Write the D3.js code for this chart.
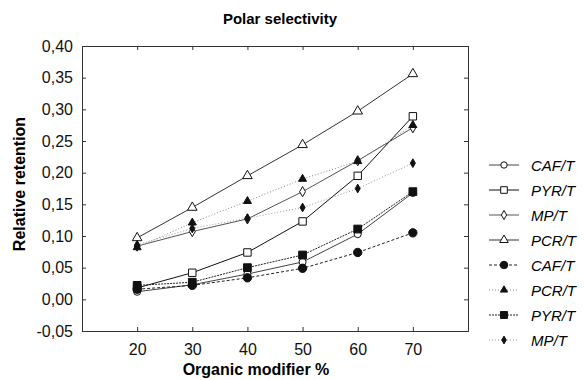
<!DOCTYPE html>
<html>
<head>
<meta charset="utf-8">
<script src="https://cdn.jsdelivr.net/npm/d3@7"></script>
<style>
  body { margin: 0; background: #fff; }
  .axis path, .axis line { stroke: #333; }
</style>
</head>
<body>
<svg width="584" height="380" font-family="'Liberation Sans', Arial, sans-serif"></svg>
<script>
const modifier = [20, 30, 40, 50, 60, 70];
const xTicks = [10, 20, 30, 40, 50, 60, 70, 80];
const xLabels = [20, 30, 40, 50, 60, 70];
const yTicks = [-0.05, 0, 0.05, 0.1, 0.15, 0.2, 0.25, 0.3, 0.35, 0.4];

const cafOpen = [0.012, 0.023, 0.040, 0.059, 0.103, 0.168];
const pyrOpen = [0.018, 0.042, 0.074, 0.123, 0.195, 0.289];
const mpOpen = [0.084, 0.107, 0.127, 0.170, 0.219, 0.271];
const pcrOpen = [0.097, 0.145, 0.195, 0.244, 0.297, 0.356];
const cafFilled = [0.016, 0.022, 0.034, 0.049, 0.074, 0.105];
const pcrFilled = [0.082, 0.121, 0.155, 0.190, 0.218, 0.275];
const pyrFilled = [0.022, 0.027, 0.050, 0.070, 0.111, 0.170];
const mpFilled = [0.086, 0.112, 0.128, 0.145, 0.175, 0.215];

const series = [
  { label: 'CAF/T', values: cafOpen, symbol: d3.symbolCircle, size: 40, filled: false, dash: null, color: '#444' },
  { label: 'PYR/T', values: pyrOpen, symbol: d3.symbolSquare, size: 55, filled: false, dash: null, color: '#111' },
  { label: 'MP/T', values: mpOpen, symbol: d3.symbolDiamond, size: 30, filled: false, dash: null, color: '#555' },
  { label: 'PCR/T', values: pcrOpen, symbol: d3.symbolTriangle, size: 40, filled: false, dash: null, color: '#333' },
  { label: 'CAF/T', values: cafFilled, symbol: d3.symbolCircle, size: 55, filled: true, dash: '3,2', color: '#222' },
  { label: 'PCR/T', values: pcrFilled, symbol: d3.symbolTriangle, size: 28, filled: true, dash: '1,2', color: '#888' },
  { label: 'PYR/T', values: pyrFilled, symbol: d3.symbolSquare, size: 60, filled: true, dash: '2,1', color: '#222' },
  { label: 'MP/T', values: mpFilled, symbol: d3.symbolDiamond, size: 22, filled: true, dash: '1,2', color: '#999' }
];

const svg = d3.select('svg');
const font = "'Liberation Sans', Arial, sans-serif";
const margin = { top: 46, right: 116, bottom: 49, left: 82 };
const width = +svg.attr('width');
const height = +svg.attr('height');
const innerWidth = width - margin.left - margin.right;
const innerHeight = height - margin.top - margin.bottom;

const xScale = d3.scaleLinear().domain([10, 80]).range([0, innerWidth]);
const yScale = d3.scaleLinear().domain([-0.05, 0.4]).range([innerHeight, 0]);

const g = svg.append('g')
  .attr('transform', `translate(${margin.left},${margin.top})`);

const fmt = d => d3.format('.2f')(d).replace('.', ',').replace('−', '-');

// axis groups get real font attributes (d3 defaults to 10px sans-serif)
const styleAxis = sel => sel
  .attr('class', 'axis')
  .attr('font-size', 16)
  .attr('font-family', font);

// bottom axis: ticks, then labels only at the data columns
g.append('g')
  .attr('transform', `translate(0,${innerHeight})`)
  .call(d3.axisBottom(xScale).tickValues(xTicks).tickSize(-4).tickFormat(''))
  .call(styleAxis);

g.append('g')
  .attr('transform', `translate(0,${innerHeight})`)
  .call(d3.axisBottom(xScale).tickValues(xLabels).tickSize(0).tickPadding(13))
  .call(styleAxis)
  .select('.domain').remove();

// top axis
g.append('g')
  .call(d3.axisTop(xScale).tickValues(xTicks).tickSize(-4).tickFormat(''))
  .call(styleAxis);

// left axis
g.append('g')
  .call(d3.axisLeft(yScale).tickValues(yTicks).tickSize(-4).tickPadding(9).tickFormat(fmt))
  .call(styleAxis);

// right axis
g.append('g')
  .attr('transform', `translate(${innerWidth},0)`)
  .call(d3.axisRight(yScale).tickValues(yTicks).tickSize(-4).tickFormat(''))
  .call(styleAxis);

g.selectAll('.axis text').attr('fill', '#111');

// lines
const line = d3.line()
  .x((d, i) => xScale(modifier[i]))
  .y(d => yScale(d));

series.forEach(s => {
  g.append('path')
    .datum(s.values)
    .attr('fill', 'none')
    .attr('stroke', s.color)
    .attr('stroke-width', 1)
    .attr('stroke-dasharray', s.dash)
    .attr('d', line);
});

// markers
series.forEach(s => {
  g.selectAll(null)
    .data(s.values)
    .enter().append('path')
    .attr('transform', (d, i) => `translate(${xScale(modifier[i])},${yScale(d)})`)
    .attr('d', d3.symbol().type(s.symbol).size(s.size))
    .attr('fill', s.filled ? '#111' : '#fff')
    .attr('stroke', '#111')
    .attr('stroke-width', 1);
});

// title
svg.append('text')
  .attr('x', 280)
  .attr('y', 24)
  .attr('text-anchor', 'middle')
  .attr('font-size', '15px')
  .attr('font-weight', 'bold')
  .text('Polar selectivity');

// axis labels
svg.append('text')
  .attr('x', 256)
  .attr('y', 375)
  .attr('text-anchor', 'middle')
  .attr('font-size', '16px')
  .attr('font-weight', 'bold')
  .text('Organic modifier %');

svg.append('text')
  .attr('transform', `translate(25,184) rotate(-90)`)
  .attr('text-anchor', 'middle')
  .attr('font-size', '16px')
  .attr('font-weight', 'bold')
  .text('Relative retention');

// legend
const legend = svg.append('g').attr('transform', 'translate(489,165)');
series.forEach((s, i) => {
  const row = legend.append('g').attr('transform', `translate(0,${i * 25})`);
  row.append('line')
    .attr('x1', 0).attr('x2', 30)
    .attr('stroke', s.color)
    .attr('stroke-dasharray', s.dash);
  row.append('path')
    .attr('transform', 'translate(15,0)')
    .attr('d', d3.symbol().type(s.symbol).size(s.size * 0.8))
    .attr('fill', s.filled ? '#111' : '#fff')
    .attr('stroke', '#111');
  row.append('text')
    .attr('x', 42)
    .attr('y', 5.5)
    .attr('font-size', '15px')
    .attr('font-style', 'italic')
    .text(s.label);
});
</script>
</body>
</html>
